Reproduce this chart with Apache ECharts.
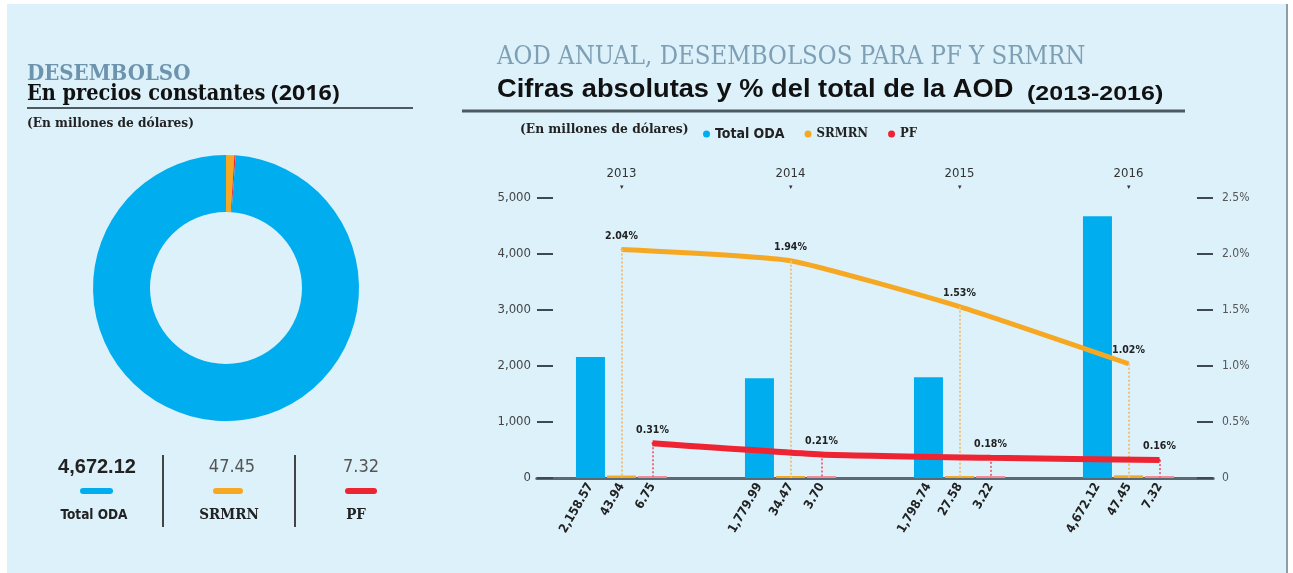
<!DOCTYPE html>
<html>
<head>
<meta charset="utf-8">
<script src="https://cdn.jsdelivr.net/npm/echarts@6/dist/echarts.min.js"></script>
<style>
  html, body { margin: 0; padding: 0; background: #ffffff; }
  #panel { position: absolute; left: 7px; top: 4px; width: 1279px; height: 569px; background: #dcf1fa; border-right: 2px solid #8d9ea7; }
  #chart { position: absolute; left: 0; top: 0; width: 1293px; height: 573px; }
</style>
</head>
<body>
<div id="panel"></div>
<div id="chart"></div>
<script>
// datos (millones de dólares, precios constantes 2016)
const years = ['2013', '2014', '2015', '2016']
const totalOda = [2158.57, 1779.99, 1798.74, 4672.12]
const srmrn = [43.94, 34.47, 27.58, 47.45]
const pf = [6.75, 3.70, 3.22, 7.32]
// % del total de la AOD
const srmrnPct = [2.04, 1.94, 1.53, 1.02]
const pfPct = [0.31, 0.21, 0.18, 0.16]

const BLUE = '#00aeef'
const ORANGE = '#f7a823'
const RED = '#ee2432'
const COND = "'DejaVu Sans Condensed', 'Liberation Sans Narrow', sans-serif"
const SLAB = "'DejaVu Serif Condensed', 'DejaVu Serif', serif"

const fmt = v => v.toLocaleString('en-US', { minimumFractionDigits: 2, maximumFractionDigits: 2 })
const last = arr => arr[arr.length - 1]

let myChart = echarts.init(document.getElementById('chart'))

const barLabel = {
  show: true,
  position: 'bottom',
  distance: 6,
  rotate: 60,
  align: 'right',
  verticalAlign: 'middle',
  fontFamily: COND,
  fontWeight: 'bold',
  fontSize: 12.5,
  color: '#222',
  formatter: p => fmt(p.value),
}

const pctLabel = {
  show: true,
  position: 'top',
  distance: 7,
  fontFamily: COND,
  fontWeight: 'bold',
  fontSize: 10.5,
  color: '#222',
  formatter: p => p.value.toFixed(2) + '%',
}

// líneas punteadas desde cada punto hasta el eje
const dropLines = (vals, color) => ({
  silent: true,
  symbol: 'none',
  label: { show: false },
  lineStyle: { type: 'dotted', color: color, width: 2 },
  data: vals.map((v, i) => [{ coord: [i, v] }, { coord: [i, 0] }]),
})

let option = {
  backgroundColor: 'transparent',
  animation: false,
  legend: {
    left: 698,
    top: 122,
    icon: 'circle',
    itemWidth: 7,
    itemHeight: 7,
    itemGap: 20,
    textStyle: { fontFamily: COND, fontWeight: 'bold', fontSize: 14, color: '#222' },
    data: [
      { name: 'Total ODA', itemStyle: { color: BLUE } },
      { name: 'SRMRN', itemStyle: { color: ORANGE }, textStyle: { fontFamily: SLAB, fontWeight: 'bold', fontSize: 13 } },
      { name: 'PF', itemStyle: { color: RED }, textStyle: { fontFamily: SLAB, fontWeight: 'bold', fontSize: 13 } },
    ],
  },
  grid: [
    { left: 537, right: 80, top: 198, height: 280 },
    // rejilla desplazada para la línea PF (alineada con las barras PF)
    { left: 568, right: 49, top: 198, height: 280 },
  ],
  xAxis: [
    {
      type: 'category',
      gridIndex: 0,
      position: 'top',
      data: years,
      axisLine: { lineStyle: { color: '#5b6a72', width: 3 } },
      axisTick: { show: false },
      axisLabel: {
        margin: 6,
        formatter: v => '{y|' + v + '}\n{d|▾}',
        rich: {
          y: { fontFamily: COND, fontSize: 13, color: '#333', lineHeight: 16 },
          d: { fontSize: 7, color: '#333', lineHeight: 10 },
        },
      },
    },
    {
      type: 'category',
      gridIndex: 0,
      position: 'bottom',
      data: years,
      axisLine: { lineStyle: { color: '#5b6a72', width: 3 } },
      axisTick: { show: false },
      axisLabel: { show: false },
    },
    {
      type: 'category',
      gridIndex: 1,
      data: years,
      show: false,
    },
  ],
  yAxis: [
    {
      type: 'value',
      gridIndex: 0,
      min: 0,
      max: 5000,
      interval: 1000,
      axisLine: { show: false },
      splitLine: { show: false },
      axisTick: { show: true, inside: true, length: 16, lineStyle: { color: '#3d4a52', width: 2 } },
      axisLabel: {
        margin: 6,
        fontFamily: COND,
        fontSize: 13,
        color: '#444',
        formatter: v => v.toLocaleString('en-US'),
      },
    },
    {
      type: 'value',
      gridIndex: 0,
      position: 'right',
      min: 0,
      max: 2.5,
      interval: 0.5,
      axisLine: { show: false },
      splitLine: { show: false },
      axisTick: { show: true, inside: true, length: 16, lineStyle: { color: '#3d4a52', width: 2 } },
      axisLabel: {
        margin: 9,
        fontFamily: COND,
        fontSize: 12,
        color: '#555',
        formatter: v => (v === 0 ? '0' : v.toFixed(1) + '%'),
      },
    },
    {
      type: 'value',
      gridIndex: 1,
      min: 0,
      max: 2.5,
      show: false,
    },
  ],
  series: [
    {
      name: 'Total ODA',
      type: 'bar',
      xAxisIndex: 0,
      yAxisIndex: 0,
      barWidth: 29,
      barGap: '7%',
      itemStyle: { color: BLUE },
      label: barLabel,
      data: totalOda,
    },
    {
      name: 'SRMRN',
      type: 'bar',
      xAxisIndex: 0,
      yAxisIndex: 0,
      barWidth: 29,
      barGap: '7%',
      barMinHeight: 2,
      itemStyle: { color: ORANGE },
      label: barLabel,
      data: srmrn,
    },
    {
      name: 'PF',
      type: 'bar',
      xAxisIndex: 0,
      yAxisIndex: 0,
      barWidth: 29,
      barGap: '7%',
      barMinHeight: 2,
      itemStyle: { color: '#f58a98' },
      label: barLabel,
      data: pf,
    },
    {
      name: 'SRMRN',
      type: 'line',
      xAxisIndex: 0,
      yAxisIndex: 1,
      smooth: 0.15,
      symbol: 'circle',
      symbolSize: 2,
      z: 4,
      lineStyle: { color: ORANGE, width: 5 },
      itemStyle: { color: ORANGE },
      label: pctLabel,
      markLine: dropLines(srmrnPct, '#f0c27a'),
      data: srmrnPct,
    },
    {
      name: 'PF',
      type: 'line',
      xAxisIndex: 2,
      yAxisIndex: 2,
      smooth: 0.15,
      symbol: 'circle',
      symbolSize: 2,
      z: 5,
      lineStyle: { color: RED, width: 6 },
      itemStyle: { color: RED },
      label: pctLabel,
      markLine: dropLines(pfPct, '#ee6f80'),
      data: pfPct,
    },
    {
      name: 'Desembolso 2016',
      type: 'pie',
      center: [226, 288],
      radius: [76, 133],
      startAngle: 90,
      clockwise: true,
      silent: true,
      label: { show: false },
      labelLine: { show: false },
      data: [
        { name: 'SRMRN', value: last(srmrn), itemStyle: { color: ORANGE } },
        { name: 'PF', value: last(pf), itemStyle: { color: RED } },
        { name: 'Total ODA', value: last(totalOda), itemStyle: { color: BLUE } },
      ],
    },
  ],
  graphic: [
    // panel izquierdo
    { type: 'text', x: 27, y: 63, style: { text: 'DESEMBOLSO', font: "bold 22px " + SLAB, fill: '#6d93ad' } },
    { type: 'text', x: 27, y: 83, style: { text: 'En precios constantes', font: "bold 21.5px " + SLAB, fill: '#111' } },
    { type: 'text', x: 271, y: 83, scaleX: 1.05, style: { text: '(2016)', font: "bold 22px 'Noto Sans', sans-serif", fill: '#111' } },
    { type: 'line', shape: { x1: 27, y1: 108, x2: 413, y2: 108 }, style: { stroke: '#4d5a62', lineWidth: 2 } },
    { type: 'text', x: 27, y: 117, scaleX: 1.04, style: { text: '(En millones de dólares)', font: "bold 13px " + SLAB, fill: '#222' } },

    { type: 'text', x: 97, y: 467, style: { text: fmt(last(totalOda)), font: "bold 20px 'Liberation Sans', sans-serif", fill: '#222', align: 'center', verticalAlign: 'middle' } },
    { type: 'rect', shape: { x: 80, y: 488, width: 33, height: 6, r: 3 }, style: { fill: BLUE } },
    { type: 'text', x: 94, y: 515, style: { text: 'Total ODA', font: "bold 13.5px " + COND, fill: '#222', align: 'center', verticalAlign: 'middle' } },
    { type: 'line', shape: { x1: 163, y1: 455, x2: 163, y2: 527 }, style: { stroke: '#444', lineWidth: 2 } },
    { type: 'text', x: 232, y: 467, style: { text: fmt(last(srmrn)), font: "18px " + COND, fill: '#555', align: 'center', verticalAlign: 'middle' } },
    { type: 'rect', shape: { x: 213, y: 488, width: 30, height: 6, r: 3 }, style: { fill: ORANGE } },
    { type: 'text', x: 229, y: 515, style: { text: 'SRMRN', font: "bold 15px " + SLAB, fill: '#222', align: 'center', verticalAlign: 'middle' } },
    { type: 'line', shape: { x1: 295, y1: 455, x2: 295, y2: 527 }, style: { stroke: '#444', lineWidth: 2 } },
    { type: 'text', x: 361, y: 467, style: { text: fmt(last(pf)), font: "18px " + COND, fill: '#555', align: 'center', verticalAlign: 'middle' } },
    { type: 'rect', shape: { x: 345, y: 488, width: 32, height: 6, r: 3 }, style: { fill: RED } },
    { type: 'text', x: 356, y: 515, style: { text: 'PF', font: "bold 15px " + SLAB, fill: '#222', align: 'center', verticalAlign: 'middle' } },

    // panel derecho
    { type: 'text', x: 497, y: 44, style: { text: 'AOD ANUAL, DESEMBOLSOS PARA PF Y SRMRN', font: "25.5px " + SLAB, fill: '#7f9fb4' } },
    { type: 'text', x: 497, y: 78, scaleX: 1.09, style: { text: 'Cifras absolutas y % del total de la AOD', font: "bold 25px 'Liberation Sans', sans-serif", fill: '#111' } },
    { type: 'text', x: 1027, y: 84, scaleX: 1.25, style: { text: '(2013-2016)', font: "bold 20px 'Liberation Sans', sans-serif", fill: '#111' } },
    { type: 'line', shape: { x1: 462, y1: 111, x2: 1185, y2: 111 }, style: { stroke: '#4d5a62', lineWidth: 3 } },
    { type: 'text', x: 520, y: 123, scaleX: 1.05, style: { text: '(En millones de dólares)', font: "bold 13px " + SLAB, fill: '#222' } },
  ],
}

myChart.setOption(option)
window.onresize = function() {
  myChart.resize()
}
</script>
</body>
</html>
